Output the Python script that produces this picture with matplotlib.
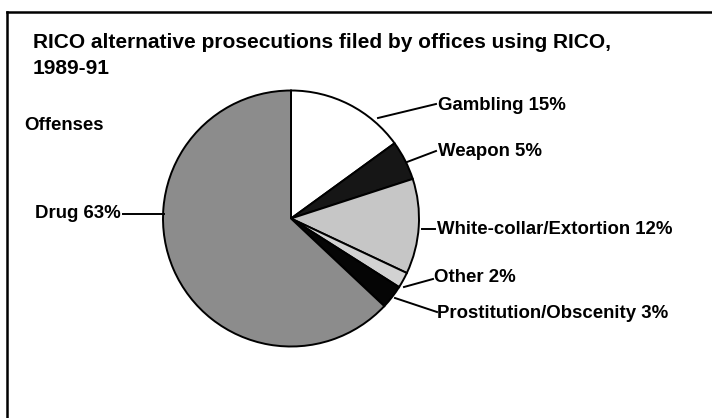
import matplotlib.pyplot as plt

# Offense shares, clockwise from 12 o'clock
offenses = ["Gambling", "Weapon", "White-collar/Extortion", "Other",
            "Prostitution/Obscenity", "Drug"]
shares = [15, 5, 12, 2, 3, 63]
slice_colors = ["#ffffff", "#161616", "#c6c6c6", "#d2d2d2", "#050505", "#8c8c8c"]

W, H = 712, 418
fig = plt.figure(figsize=(W / 100, H / 100), dpi=100)
ax = fig.add_axes([0, 0, 1, 1])

plt.rcParams["font.family"] = ["Liberation Sans", "DejaVu Sans"]


def py(y):
    # pixel row (from top) -> data y
    return H - y


# pie
cx, cy, r = 291, 218.5, 128
ax.pie(shares, colors=slice_colors, startangle=90, counterclock=False,
       center=(cx, py(cy)), radius=r, frame=True,
       wedgeprops=dict(edgecolor="black", linewidth=1.4))
ax.set_xlim(0, W)
ax.set_ylim(0, H)
ax.set_aspect("equal")
ax.axis("off")

# frame (only top and left edges show in the scan)
ax.plot([7, W], [py(12), py(12)], color="black", lw=1.8)
ax.plot([7, 7], [py(12), 0], color="black", lw=1.8)

title = dict(fontsize=15, fontweight="bold", color="black", va="center")
txt = dict(fontsize=13.4, fontweight="bold", color="black", va="center")

ax.text(33, py(43), "RICO alternative prosecutions filed by offices using RICO,", **title)
ax.text(33, py(68), "1989-91", **title)
ax.text(24, py(125), "Offenses", **txt)

# labels with leader lines: (text x, text y, line start, line end)
labels = [
    (438, 105, (378, 118), (436, 104)),
    (438, 152, (407, 162), (436, 151)),
    (437, 229, (422, 229), (435, 229)),
    (434, 277, (404, 287), (433, 279)),
    (437, 313, (395, 298), (437, 312)),
]
for name, pct, (tx, ty, p0, p1) in zip(offenses[:5], shares[:5], labels):
    ax.plot([p0[0], p1[0]], [py(p0[1]), py(p1[1])], color="black", lw=1.4)
    ax.text(tx, py(ty), f"{name} {pct}%", **txt)

ax.plot([123, 164], [py(214), py(214)], color="black", lw=1.4)
ax.text(35, py(214), f"{offenses[5]} {shares[5]}%", **txt)

fig.savefig("out.png", dpi=100)
